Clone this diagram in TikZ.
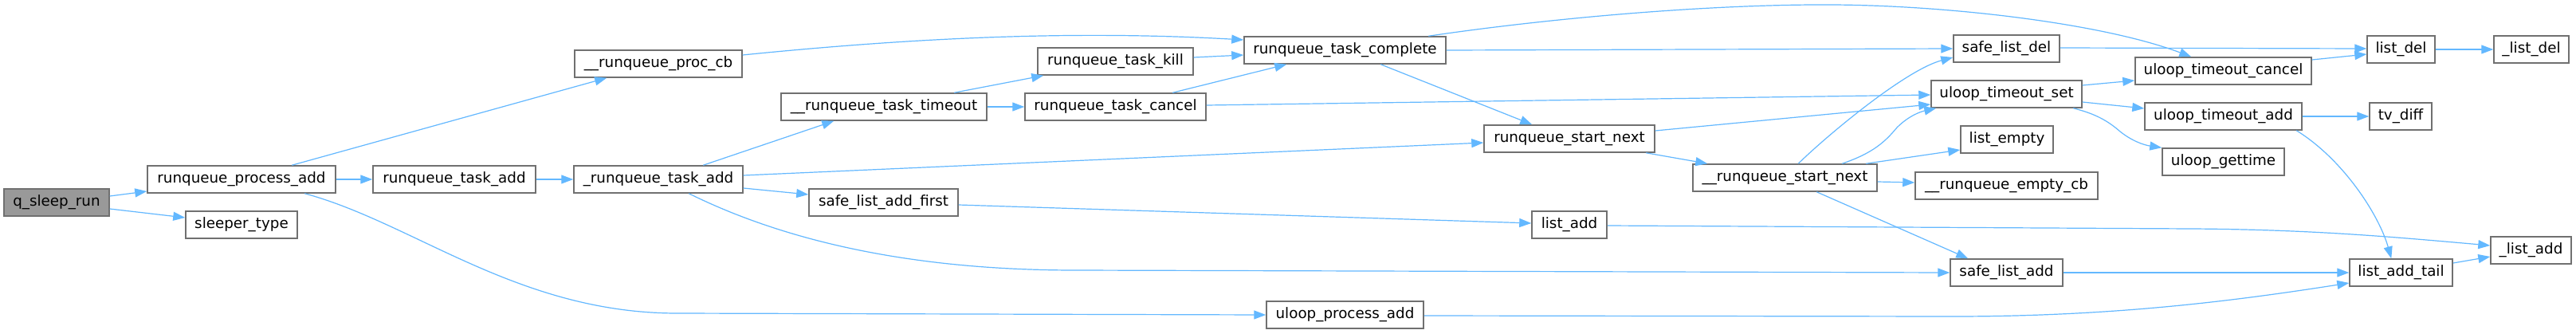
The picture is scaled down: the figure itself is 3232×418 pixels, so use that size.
\documentclass[tikz,border=0pt]{standalone}
\usepackage{fontspec}
\setmainfont{DejaVu Sans}
\usetikzlibrary{arrows.meta,calc}
\definecolor{edgec}{HTML}{63B8FF}
\definecolor{boxline}{HTML}{707070}
\definecolor{rootfill}{HTML}{999999}
\tikzset{
 gbox/.style={draw=boxline, line width=0.75pt, fill=white, inner sep=0pt, font=\fontsize{9.15pt}{11pt}\selectfont, text=black},
 rootbox/.style={gbox, fill=rootfill},
 edge/.style={draw=edgec, line width=0.6pt, -{Triangle[length=7.5pt,width=5.5pt]}},
}
\newcommand\gnode[7]{\node[#1, minimum width={(#5-#3)*0.5pt}, minimum height={(#6-#4)*0.5pt}] (#2) at ({(#3+#5)/2},{(#4+#6)/2}) {#7};}
\begin{document}
\begin{tikzpicture}[x=0.5pt,y=-0.5pt]
\useasboundingbox[fill=white] (0,0) rectangle (3232,418);
% nodes
\gnode{rootbox}{qsr}{5}{237}{137}{271}{q\_sleep\_run}
\gnode{gbox}{rpa}{185}{208}{421}{242}{runqueue\_process\_add}
\gnode{gbox}{slt}{233}{265}{373}{299}{sleeper\_type}
\gnode{gbox}{rta}{468}{208}{672}{242}{runqueue\_task\_add}
\gnode{gbox}{urta}{720}{208}{932}{242}{\_runqueue\_task\_add}
\gnode{gbox}{rpcb}{721}{63}{931}{97}{\_\_runqueue\_proc\_cb}
\gnode{gbox}{rtt}{980}{117}{1238}{151}{\_\_runqueue\_task\_timeout}
\gnode{gbox}{slaf}{1015}{237}{1202}{271}{safe\_list\_add\_first}
\gnode{gbox}{rtk}{1302}{60}{1497}{94}{runqueue\_task\_kill}
\gnode{gbox}{rtc}{1286}{117}{1513}{151}{runqueue\_task\_cancel}
\gnode{gbox}{rtcomp}{1561}{46}{1814}{80}{runqueue\_task\_complete}
\gnode{gbox}{rsn}{1862}{157}{2076}{191}{runqueue\_start\_next}
\gnode{gbox}{la}{1922}{265}{2016}{299}{list\_add}
\gnode{gbox}{upa}{1589}{378}{1786}{412}{uloop\_process\_add}
\gnode{gbox}{usn}{2124}{206}{2355}{240}{\_\_runqueue\_start\_next}
\gnode{gbox}{sld}{2451}{44}{2584}{78}{safe\_list\_del}
\gnode{gbox}{uts}{2423}{101}{2612}{135}{uloop\_timeout\_set}
\gnode{gbox}{le}{2460}{158}{2576}{192}{list\_empty}
\gnode{gbox}{recb}{2403}{216}{2632}{250}{\_\_runqueue\_empty\_cb}
\gnode{gbox}{sla}{2447}{325}{2588}{359}{safe\_list\_add}
\gnode{gbox}{utc}{2679}{72}{2900}{106}{uloop\_timeout\_cancel}
\gnode{gbox}{uta}{2691}{129}{2888}{163}{uloop\_timeout\_add}
\gnode{gbox}{ug}{2713}{186}{2866}{220}{uloop\_gettime}
\gnode{gbox}{ld}{2970}{45}{3055}{79}{list\_del}
\gnode{gbox}{uld}{3129}{45}{3223}{79}{\_list\_del}
\gnode{gbox}{tvd}{2973}{129}{3051}{163}{tv\_diff}
\gnode{gbox}{ulat}{2948}{325}{3077}{359}{list\_add\_tail}
\gnode{gbox}{ula}{3125}{297}{3226}{331}{\_list\_add}
% edges
\draw[edge] ($(qsr.east)+(0,-8)$) -- ($(rpa.west)+(0,15)$);
\draw[edge] ($(qsr.east)+(0,8)$) -- ($(slt.west)+(0,-9)$);
\draw[edge] ($(rpa.north west)+(182,0)$) -- ($(rpcb.south west)+(41,0)$);
\draw[edge] (rpa.east) -- (rta.west);
\draw[edge] ($(rpa.south west)+(198,0)$) .. controls (520,280) and (650,393) .. (850,393) -- (upa.west);
\draw[edge] (rta.east) -- (urta.west);
\draw[edge] ($(urta.north west)+(163,0)$) -- ($(rtt.south west)+(67,0)$);
\draw[edge] ($(urta.east)+(0,-5)$) -- ($(rsn.west)+(0,5)$);
\draw[edge] ($(urta.east)+(0,11)$) -- ($(slaf.west)+(0,-10)$);
\draw[edge] ($(urta.south west)+(145,0)$) .. controls (950,285) and (1100,339) .. (1350,339) -- (sla.west);
\draw[edge] ($(rpcb.east)+(0,-11)$) .. controls (1150,47) and (1350,38) .. ($(rtcomp.west)+(0,-13)$);
\draw[edge] ($(rtt.north west)+(218,0)$) -- ($(rtk.south west)+(8,0)$);
\draw[edge] (rtt.east) -- (rtc.west);
\draw[edge] ($(rtk.east)+(0,-5)$) -- ($(rtcomp.west)+(0,6)$);
\draw[edge] ($(rtc.north west)+(186,0)$) -- ($(rtcomp.south west)+(54,0)$);
\draw[edge] ($(rtc.east)+(0,-2)$) -- ($(uts.west)+(0,1)$);
\draw[edge] ($(rtcomp.south west)+(172,0)$) -- ($(rsn.north west)+(61,0)$);
\draw[edge] (rtcomp.east) -- (sld.west);
\draw[edge] ($(rtcomp.north west)+(232,0)$) .. controls (1950,22) and (2150,5) .. (2300,6) .. controls (2450,7) and (2640,30) .. ($(utc.north west)+(71,0)$);
\draw[edge] ($(rsn.east)+(0,-10)$) -- ($(uts.west)+(0,13)$);
\draw[edge] ($(rsn.south west)+(204,0)$) -- ($(usn.north west)+(19,0)$);
\draw[edge] ($(slaf.east)+(0,3)$) -- ($(la.west)+(0,-2)$);
\draw[edge] ($(la.east)+(0,1)$) -- (2750,287) .. controls (2900,288) and (3000,297) .. ($(ula.west)+(0,-6)$);
\draw[edge] ($(upa.east)+(0,1)$) -- (2450,397) .. controls (2650,397) and (2800,378) .. ($(ulat.west)+(0,13)$);
\draw[edge] ($(usn.north west)+(133,0)$) .. controls (2290,172) and (2390,88) .. ($(sld.west)+(0,11)$);
\draw[edge] ($(usn.north west)+(188,0)$) .. controls (2350,192) and (2365,178) .. (2380,160) .. controls (2395,145) and (2410,140) .. ($(uts.south west)+(7,0)$);
\draw[edge] ($(usn.north west)+(218,0)$) -- ($(le.west)+(0,13)$);
\draw[edge] ($(usn.east)+(0,5)$) -- ($(recb.west)+(0,-4)$);
\draw[edge] ($(usn.south west)+(156,0)$) -- ($(sla.north west)+(23,0)$);
\draw[edge] ($(sld.east)+(0,-1)$) -- ($(ld.west)+(0,-1)$);
\draw[edge] ($(uts.east)+(0,-11)$) -- ($(utc.west)+(0,12)$);
\draw[edge] ($(uts.east)+(0,10)$) -- ($(uta.west)+(0,-10)$);
\draw[edge] ($(uts.south west)+(179,0)$) .. controls (2630,143) and (2645,152) .. (2660,165) .. controls (2675,177) and (2690,182) .. (ug.north west);
\draw[edge] ($(utc.east)+(0,-14)$) -- ($(ld.west)+(0,6)$);
\draw[edge] (ld.east) -- (uld.west);
\draw[edge] (uta.east) -- (tvd.west);
\draw[edge] ($(uta.south west)+(191,0)$) .. controls (2940,200) and (2985,270) .. ($(ulat.north west)+(53,0)$);
\draw[edge] (sla.east) -- (ulat.west);
\draw[edge] ($(ulat.east)+(0,-12)$) -- ($(ula.west)+(0,8)$);
\end{tikzpicture}
\end{document}
